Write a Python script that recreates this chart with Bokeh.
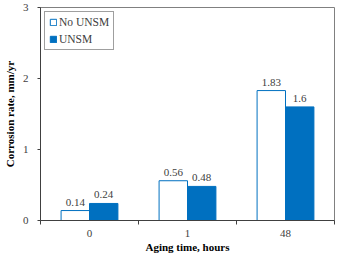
from bokeh.plotting import figure
from bokeh.models import ColumnDataSource, FixedTicker, Range1d, Legend, LegendItem
from bokeh.core.properties import value
from bokeh.embed import file_html
from bokeh.resources import INLINE

categories = ["0", "1", "48"]
no_unsm = [0.14, 0.56, 1.83]
unsm = [0.24, 0.48, 1.6]
y_ticks = [0, 1, 2, 3]
x_title = "Aging time, hours"
y_title = "Corrosion rate, mm/yr"

BLUE = "#0070C0"
FONT = "Liberation Serif"
TXT = "#404040"
bar_w = 0.29
Y_MAX = 3

centers = [i + 0.5 for i in range(len(categories))]
src_a = ColumnDataSource(dict(x=[c - bar_w / 2 for c in centers], top=no_unsm,
                              lab=[str(v) for v in no_unsm]))
src_b = ColumnDataSource(dict(x=[c + bar_w / 2 for c in centers], top=unsm,
                              lab=[str(v) for v in unsm]))

p = figure(width=338, height=255, output_backend="svg", toolbar_location=None,
           x_range=Range1d(0, len(categories)), y_range=Range1d(0, Y_MAX),
           min_border_left=40, min_border_right=4, min_border_top=7, min_border_bottom=35)
p.background_fill_color = "white"
p.border_fill_color = "white"
p.outline_line_color = "#808080"
p.outline_line_width = 1
p.xgrid.visible = False
p.ygrid.visible = False

r_a = p.vbar(x="x", top="top", width=bar_w, source=src_a, fill_color="white",
             line_color=BLUE, line_width=1)
r_b = p.vbar(x="x", top="top", width=bar_w, source=src_b, fill_color=BLUE,
             line_color=BLUE, line_width=1)

for s in (src_a, src_b):
    p.text(x="x", y="top", text="lab", source=s, text_align="center",
           text_baseline="bottom", y_offset=-5, text_font_size="11px",
           text_color=TXT, text_font=value(FONT))

# x axis: labels at category centres, tick marks between categories
p.xaxis.ticker = FixedTicker(ticks=centers, minor_ticks=list(range(len(categories) + 1)))
p.xaxis.major_label_overrides = {c: lab for c, lab in zip(centers, categories)}
p.xaxis.major_tick_out = 0
p.xaxis.major_tick_in = 0
p.xaxis.minor_tick_out = 4
p.xaxis.minor_tick_in = 0
p.xaxis.major_label_standoff = 5
p.xaxis.axis_label = x_title
p.xaxis.axis_label_standoff = 1

p.yaxis.ticker = FixedTicker(ticks=y_ticks)
p.yaxis.major_tick_out = 3
p.yaxis.major_tick_in = 0
p.yaxis.major_label_standoff = 9
p.yaxis.axis_label = y_title
p.yaxis.axis_label_standoff = 4

for ax in (p.xaxis, p.yaxis):
    ax.axis_line_color = "#404040"
    ax.major_tick_line_color = "#404040"
    ax.major_label_text_font = FONT
    ax.major_label_text_font_size = "11px"
    ax.major_label_text_color = TXT
    ax.axis_label_text_font = FONT
    ax.axis_label_text_font_size = "11px"
    ax.axis_label_text_font_style = "bold"
    ax.axis_label_text_color = "#000000"
p.xaxis.minor_tick_line_color = "#404040"
p.yaxis.minor_tick_line_color = None

legend = Legend(items=[LegendItem(label="No UNSM", renderers=[r_a]),
                       LegendItem(label="UNSM", renderers=[r_b])],
                location="top_left")
legend.margin = 4
legend.padding = 4
legend.spacing = 5
legend.glyph_width = 8
legend.glyph_height = 8
legend.label_height = 12
legend.label_standoff = 2
legend.label_text_font = FONT
legend.label_text_font_size = "11.5px"
legend.label_text_color = TXT
legend.border_line_color = "#404040"
legend.border_line_width = 1
legend.background_fill_color = "white"
p.add_layout(legend)

open("out.html", "w").write(file_html(p, INLINE))
